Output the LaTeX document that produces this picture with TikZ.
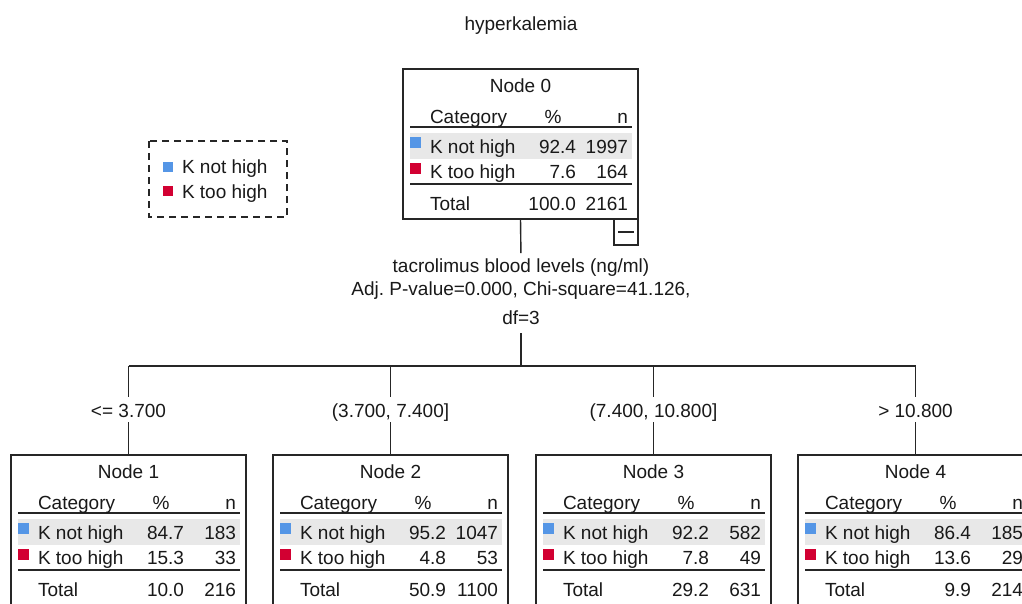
\documentclass[tikz,border=0pt]{standalone}
\usepackage{fontspec}
\setmainfont{Liberation Sans}
\frenchspacing
\definecolor{kblue}{RGB}{85,150,230}
\definecolor{kred}{RGB}{210,0,50}
\definecolor{rowshade}{RGB}{232,232,232}
\tikzset{
  txt/.style={inner sep=0pt, outer sep=0pt, font=\fontsize{19}{23}\selectfont, text=black!90},
  lbl/.style={txt, text height=14pt, text depth=4pt, anchor=base},
  treebox/.style={draw=black!85, line width=1.4pt, minimum width=235pt, minimum height=150pt, anchor=north west, inner sep=0pt, outer sep=0pt},
  conn/.style={line width=1.4pt, draw=black!85},
  tablerule/.style={line width=1.9pt, draw=black!85},
}
\newcommand{\treebox}[9]{%
  \begin{scope}[shift={(#2,#3)}]
    \fill[rowshade] (7,64) rectangle (229,90);
    \node[treebox] (n#1) at (0,0) {};
    \draw[tablerule] (7,58) -- (229,58);
    \draw[tablerule] (7,115) -- (229,115);
    \fill[kblue] (7,68) rectangle (18,79);
    \fill[kred] (7,94) rectangle (18,105);
    \node[txt, anchor=base] (n#1t) at (117.5,23) {Node #1};
    \node[txt, anchor=base west] (n#1h1) at (27,54) {Category};
    \node[txt, anchor=base] (n#1h2) at (150,54) {\%};
    \node[txt, anchor=base east] (n#1h3) at (225,54) {n};
    \node[txt, anchor=base west] (n#1a1) at (27,84) {K not high};
    \node[txt, anchor=base east] (n#1a2) at (173,84) {#4};
    \node[txt, anchor=base east] (n#1a3) at (225,84) {#5};
    \node[txt, anchor=base west] (n#1b1) at (27,109) {K too high};
    \node[txt, anchor=base east] (n#1b2) at (173,109) {#6};
    \node[txt, anchor=base east] (n#1b3) at (225,109) {#7};
    \node[txt, anchor=base west] (n#1c1) at (27,141) {Total};
    \node[txt, anchor=base east] (n#1c2) at (173,141) {#8};
    \node[txt, anchor=base east] (n#1c3) at (225,141) {#9};
  \end{scope}}
\begin{document}
\begin{tikzpicture}[x=1pt, y=-1pt]
\useasboundingbox (0,0) rectangle (1022,603);
\fill[white] (0,0) rectangle (1022,603);

% title
\node[txt, anchor=base] (title) at (521,30) {hyperkalemia};

% legend
\draw[line width=1.4pt, draw=black!85, dash pattern=on 7pt off 5pt] (149,141) rectangle (287,217);
\node[inner sep=0pt, minimum size=10pt, fill=kblue, anchor=north west] (lb) at (163,162) {};
\node[inner sep=0pt, minimum size=10pt, fill=kred, anchor=north west] (lr) at (163,186) {};
\node[txt, anchor=base west] (lbt) at (182,173) {K not high};
\node[txt, anchor=base west] (lrt) at (182,198) {K too high};

% root node
\treebox{0}{403}{69}{92.4}{1997}{7.6}{164}{100.0}{2161}
\node[draw=black!85, line width=1.4pt, minimum width=24pt, minimum height=26pt, anchor=north east, inner sep=0pt, outer sep=0pt] (m0) at (n0.south east) {};
\draw[line width=1.6pt, draw=black!85] ([xshift=4pt]m0.west) -- ([xshift=-4pt]m0.east);

% split description
\node[txt, anchor=base] (s1) at (521,272) {tacrolimus blood levels (ng/ml)};
\node[txt, anchor=base] (s2) at (521,295) {Adj. P-value=0.000, Chi-square=41.126,};
\node[txt, anchor=base] (s3) at (521,324) {df=3};

% child nodes
\treebox{1}{11}{455}{84.7}{183}{15.3}{33}{10.0}{216}
\treebox{2}{273}{455}{95.2}{1047}{4.8}{53}{50.9}{1100}
\treebox{3}{536}{455}{92.2}{582}{7.8}{49}{29.2}{631}
\treebox{4}{798}{455}{86.4}{185}{13.6}{29}{9.9}{214}

% edge labels
\node[lbl] (l1) at (n1.north |- 0,417) {<= 3.700};
\node[lbl] (l2) at (n2.north |- 0,417) {(3.700, 7.400]};
\node[lbl] (l3) at (n3.north |- 0,417) {(7.400, 10.800]};
\node[lbl] (l4) at (n4.north |- 0,417) {> 10.800};

% connectors
\coordinate (bus) at (521,366);
\coordinate (b1) at (n1.north |- bus);
\coordinate (b2) at (n2.north |- bus);
\coordinate (b3) at (n3.north |- bus);
\coordinate (b4) at (n4.north |- bus);
\draw[conn, shorten >=5pt] (n0.south) -- (s1.north);
\draw[conn, shorten <=9pt] (s3.south) -- (bus);
\draw[conn] (b1) -- (b4);
\foreach \i in {1,2,3,4}{
  \draw[conn, shorten >=6pt] (b\i) -- (l\i.north);
  \draw[conn, shorten <=1pt] (l\i.south) -- (n\i.north);
}
\end{tikzpicture}
\end{document}
